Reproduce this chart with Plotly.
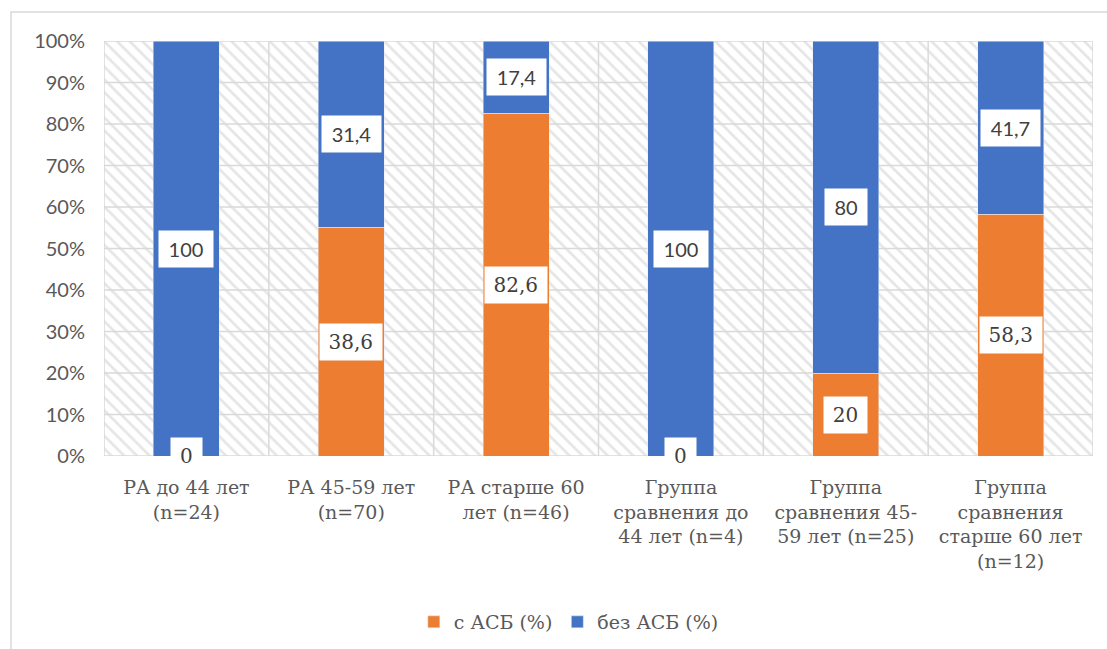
import plotly.graph_objects as go

# Age groups (category axis)
categories = [
    "РА до 44 лет<br>(n=24)",
    "РА 45-59 лет<br>(n=70)",
    "РА старше 60<br>лет (n=46)",
    "Группа<br>сравнения до<br>44 лет (n=4)",
    "Группа<br>сравнения 45-<br>59 лет (n=25)",
    "Группа<br>сравнения<br>старше 60 лет<br>(n=12)",
]
with_asb = [0, 38.6, 82.6, 0, 20, 58.3]        # с АСБ (%)
without_asb = [100, 31.4, 17.4, 100, 80, 41.7]  # без АСБ (%)
y_ticks = [0, 10, 20, 30, 40, 50, 60, 70, 80, 90, 100]
y_tick_text = [f"{t}%" for t in y_ticks]

ORANGE = "#ED7D31"
BLUE = "#4472C4"
GRID = "#d9d9d9"
SERIF = "DejaVu Serif"
SANS = "Lato"

idx = list(range(len(categories)))
fig = go.Figure()

# Hatched plot-area background, one full-width cell per category
fig.add_trace(go.Bar(
    x=idx, y=[y_ticks[-1]] * len(idx), width=1,
    marker=dict(color="white", line=dict(width=0),
                pattern=dict(shape="\\", fgcolor="#cccccc", bgcolor="white",
                             size=9, solidity=0.3)),
    showlegend=False, hoverinfo="skip", xaxis="x", yaxis="y",
))

# Grid drawn over the hatch
gx, gy = [], []
for t in y_ticks:
    gx += [-0.5, len(idx) - 0.5, None]
    gy += [t, t, None]
for i in range(len(idx) + 1):
    gx += [i - 0.5, i - 0.5, None]
    gy += [y_ticks[0], y_ticks[-1], None]
fig.add_trace(go.Scatter(
    x=gx, y=gy, mode="lines", line=dict(color=GRID, width=1.5),
    showlegend=False, hoverinfo="skip", xaxis="x", yaxis="y", cliponaxis=False,
))

# 100% stacked bars
fig.add_trace(go.Bar(x=idx, y=with_asb, name="с АСБ (%)", marker_color=ORANGE,
                     width=0.4, xaxis="x2", yaxis="y2"))
fig.add_trace(go.Bar(x=idx, y=without_asb, name="без АСБ (%)", marker_color=BLUE,
                     width=0.4, xaxis="x2", yaxis="y2"))


def fmt(v):
    return (f"{v:g}").replace(".", ",")


def box_width(text, digit, comma):
    return sum(comma if ch == "," else digit for ch in text) + 8


# Value labels centred in each segment, on a white box
annotations = []
for i in idx:
    total = with_asb[i] + without_asb[i]
    p1 = with_asb[i] / total * 100
    p2 = without_asb[i] / total * 100
    t1, t2 = fmt(with_asb[i]), fmt(without_asb[i])
    annotations.append(dict(
        x=i, y=p1 / 2, xref="x2", yref="y2", text=t1, showarrow=False,
        font=dict(family=SERIF, size=20, color="#404040"),
        bgcolor="white", borderpad=5, height=26,
        width=box_width(t1, 12.5, 6),
    ))
    annotations.append(dict(
        x=i, y=p1 + p2 / 2, xref="x2", yref="y2", text=t2, showarrow=False,
        font=dict(family=SANS, size=20, color="#404040"),
        bgcolor="white", borderpad=5, height=26,
        width=box_width(t2, 12, 5),
    ))

xr = [-0.5, len(idx) - 0.5]
yr = [y_ticks[0], y_ticks[-1]]
fig.update_layout(
    width=1107, height=649,
    margin=dict(l=104, r=14, t=41, b=193, autoexpand=False),
    paper_bgcolor="white", plot_bgcolor="white",
    barmode="stack", barnorm="percent",
    xaxis=dict(range=xr, tickvals=idx, ticktext=categories, showgrid=False,
               zeroline=False, showline=False, ticks="", tickangle=0,
               automargin=False,
               tickfont=dict(family=SERIF, size=19, color="#595959"),
               ticklabelstandoff=18, fixedrange=True),
    yaxis=dict(range=yr, tickvals=y_ticks, ticktext=y_tick_text, showgrid=False,
               zeroline=False, showline=False, ticks="", automargin=False,
               tickfont=dict(family=SANS, size=20, color="#595959"),
               ticklabelstandoff=18, fixedrange=True),
    xaxis2=dict(range=xr, overlaying="x", visible=False, fixedrange=True),
    yaxis2=dict(range=yr, overlaying="y", visible=False, fixedrange=True),
    legend=dict(orientation="h", x=0.47, xanchor="center", y=-0.40,
                yanchor="middle", traceorder="normal",
                font=dict(family=SERIF, size=19, color="#595959")),
    annotations=annotations,
    shapes=[dict(type="rect", xref="paper", yref="paper",
                 x0=-0.094, x1=1.03, y0=-0.5, y1=1.07,
                 line=dict(color=GRID, width=1.5), fillcolor="rgba(0,0,0,0)",
                 layer="below")],
)

fig.write_html("out.html")
